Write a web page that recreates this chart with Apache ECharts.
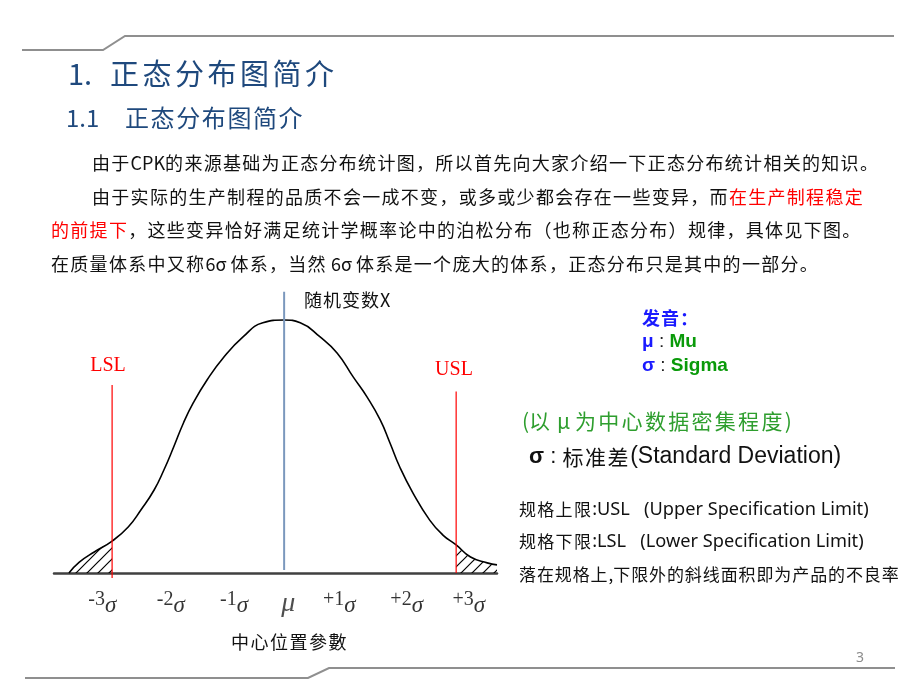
<!DOCTYPE html>
<html><head><meta charset="utf-8">
<script src="https://cdn.jsdelivr.net/npm/echarts@6/dist/echarts.min.js"></script>
<style>html,body{margin:0;padding:0;background:#fff}#c{width:920px;height:690px}</style>
</head><body><div id="c"></div>
<script>
// ---- data (x in sigma units, y relative to peak) ----
const curveX = [-3.74,-3.56,-3.30,-2.99,-2.71,-2.49,-2.26,-2.09,-1.92,-1.75,-1.58,-1.34,-1.06,-0.71,-0.37,0,0.28,0.62,0.92,1.20,1.44,1.67,1.84,2.01,2.24,2.53,2.76,2.99,3.24,3.53,3.70];
const curveY = [0,0.043,0.083,0.126,0.182,0.249,0.328,0.407,0.498,0.593,0.672,0.763,0.850,0.934,0.989,1.0,0.989,0.934,0.870,0.775,0.696,0.605,0.514,0.419,0.316,0.209,0.150,0.111,0.063,0.040,0.032];
const lslX = -2.99, uslX = 2.99, muX = 0;
const lslSpan = [0.743, -0.02];
const uslSpan = [0.717, 0];
const muSpan = [1.112, 0.012];
const tickPos = [-3.16,-1.97,-0.87,0.07,0.96,2.13,3.21];
const tickText = ['-3','-2','-1','μ','+1','+2','+3'];
const tickY = -0.121;

// ---- helpers ----
const mctx = document.createElement('canvas').getContext('2d');
function mw(t, font){ mctx.font = font; return mctx.measureText(t).width; }
const isCJK = ch => /[\u3000-\u303f\u3400-\u9fff\uff00-\uffef]/.test(ch);
function txtEl(t, x, y, font, color){
  return {type:'text', x:x, y:y, silent:true, z:10,
    style:{text:t, font:font, fill:color, textAlign:'left', textVerticalAlign:'middle', align:'left', verticalAlign:'middle'}};
}
function run(x, yc, segs, out){
  let cx = x;
  for (const s of segs){
    let buf = '';
    const flush = () => { if (buf){ out.push(txtEl(buf, cx, yc, s.font, s.color)); cx += mw(buf, s.font); buf=''; } };
    for (const ch of s.t){
      if (isCJK(ch) && s.step){ flush(); out.push(txtEl(ch, cx, yc, s.font, s.color)); cx += s.step; }
      else buf += ch;
    }
    flush();
  }
  return cx;
}
const CJK = '"Noto Sans CJK SC"';
const navy = '#1F497D', red = '#ff0000', ink = '#111111';
const g = [];
// title
run(68, 74, [{t:'1.', font:'29px '+CJK, color:navy}], g);
run(110, 74, [{t:'正态分布图简介', font:'29px '+CJK, color:navy, step:32.5}], g);
run(66, 117.5, [{t:'1.1', font:'24px '+CJK, color:navy}], g);
run(125, 117.5, [{t:'正态分布图简介', font:'24px '+CJK, color:navy, step:25.6}], g);
// body
const B = '18px '+CJK;
run(92, 163, [{t:'由于CPK的来源基础为正态分布统计图，所以首先向大家介绍一下正态分布统计相关的知识。', font:B, color:ink, step:19.3}], g);
run(92, 197, [{t:'由于实际的生产制程的品质不会一成不变，或多或少都会存在一些变异，而', font:B, color:ink, step:19.3},
              {t:'在生产制程稳定', font:B, color:red, step:19.3}], g);
run(51, 230, [{t:'的前提下', font:B, color:red, step:19.3},
              {t:'，这些变异恰好满足统计学概率论中的泊松分布（也称正态分布）规律，具体见下图。', font:B, color:ink, step:19.3}], g);
run(51, 264, [{t:'在质量体系中又称6σ 体系，当然 6σ 体系是一个庞大的体系，正态分布只是其中的一部分。', font:B, color:ink, step:19.3}], g);
// chart annotations
run(304, 300, [{t:'随机变数X', font:'18px '+CJK, color:ink, step:19}], g);
const SF = '20px "Liberation Serif"';
run(108 - mw('LSL', SF)/2, 366, [{t:'LSL', font:SF, color:red}], g);
run(454 - mw('USL', SF)/2, 370, [{t:'USL', font:SF, color:red}], g);
run(231, 642, [{t:'中心位置參數', font:'18px "Noto Sans CJK TC"', color:ink, step:19.5}], g);
// right panel
const blue = '#1a1aff', green = '#0a9a0a';
run(642, 318, [{t:'发音：', font:'bold 18px '+CJK, color:blue, step:19}], g);
run(642, 342, [{t:'μ', font:'bold 19px "Liberation Sans"', color:blue}, {t:' : ', font:'19px "Liberation Sans"', color:'#222'}, {t:'Mu', font:'bold 19px "Liberation Sans"', color:green}], g);
run(642, 366, [{t:'σ', font:'bold 19px "Liberation Sans"', color:blue}, {t:' : ', font:'19px "Liberation Sans"', color:'#222'}, {t:'Sigma', font:'bold 19px "Liberation Sans"', color:green}], g);
run(522, 421, [{t:'(以 μ 为中心数据密集程度)', font:'21px '+CJK, color:'#2e9e2e', step:23.3}], g);
run(529, 457, [{t:'σ', font:'bold 22px "Liberation Sans"', color:ink}, {t:' : ', font:'22px "Liberation Sans"', color:ink},
               {t:'标准差', font:'21px '+CJK, color:ink, step:22.6}, {t:'(Standard Deviation)', font:'23px "Liberation Sans"', color:ink}], g);
run(519, 510, [{t:'规格上限', font:'17px '+CJK, color:ink, step:18.3}, {t:':USL   (Upper Specification Limit)', font:'18.2px "Noto Sans"', color:ink}], g);
run(519, 542, [{t:'规格下限', font:'17px '+CJK, color:ink, step:18.3}, {t:':LSL   (Lower Specification Limit)', font:'18.2px "Noto Sans"', color:ink}], g);
run(519, 575, [{t:'落在规格上,下限外的斜线面积即为产品的不良率', font:'17px '+CJK, color:ink, step:17.9}], g);
run(856, 658, [{t:'3', font:'14px "Noto Sans"', color:'#8c8c8c'}], g);
// slide decoration lines
g.push({type:'polyline', silent:true, shape:{points:[[22,50],[103,50],[125,36],[894,36]]}, style:{stroke:'#8f8f8f', lineWidth:2, fill:null}});
g.push({type:'polyline', silent:true, shape:{points:[[25,678],[308,678],[329,668],[895,668]]}, style:{stroke:'#8f8f8f', lineWidth:2, fill:null}});

// hatch pattern
const pc = document.createElement('canvas'); pc.width = 11; pc.height = 11;
const px = pc.getContext('2d'); px.strokeStyle = '#000'; px.lineWidth = 1.2;
px.beginPath(); px.moveTo(-1,12); px.lineTo(12,-1); px.moveTo(-2,2); px.lineTo(2,-2); px.moveTo(9,13); px.lineTo(13,9); px.stroke();
const hatch = {image: pc, repeat: 'repeat'};

const curve = curveX.map((x,i)=>[x, curveY[i]]);
const leftTail = curve.filter(p=>p[0] <= lslX);
const rightTail = curve.filter(p=>p[0] >= uslX);

const chart = echarts.init(document.getElementById('c'), null, {renderer:'canvas'});
chart.setOption({
  animation:false,
  backgroundColor:'#ffffff',
  grid:{left:54, right:423, top:289.64, bottom:41.1},
  xAxis:{type:'value', min:-4, max:3.7, axisLine:{show:true, onZero:true, lineStyle:{color:'#404040', width:2.5}},
    axisTick:{show:false}, axisLabel:{show:false}, splitLine:{show:false}},
  yAxis:{type:'value', min:-0.3, max:1.12, show:false, splitLine:{show:false}},
  graphic:{elements:g},
  series:[
    {type:'line', data:leftTail, smooth:0.5, showSymbol:false, lineStyle:{width:0}, areaStyle:{color:hatch, opacity:1}, z:2, silent:true},
    {type:'line', data:rightTail, smooth:0.5, showSymbol:false, lineStyle:{width:0}, areaStyle:{color:hatch, opacity:1}, z:2, silent:true},
    {type:'line', data:curve, smooth:0.5, showSymbol:false, lineStyle:{color:'#000', width:1.6}, z:4, silent:true},
    {type:'line', data:[[lslX, lslSpan[0]],[lslX, lslSpan[1]]], showSymbol:false, lineStyle:{color:red, width:1.2}, z:5, silent:true},
    {type:'line', data:[[uslX, uslSpan[0]],[uslX, uslSpan[1]]], showSymbol:false, lineStyle:{color:red, width:1.2}, z:5, silent:true},
    {type:'line', data:[[muX, muSpan[0]],[muX, muSpan[1]]], showSymbol:false, lineStyle:{color:'#7b98bd', width:2}, z:5, silent:true},
    {type:'scatter', data:tickPos.map(x=>[x, tickY]), symbolSize:1, itemStyle:{color:'rgba(0,0,0,0)'}, silent:true, z:6,
      label:{show:true, position:'inside',
        formatter:p=> tickText[p.dataIndex]==='μ' ? '{m|μ}' : '{n|'+tickText[p.dataIndex]+'}{s|σ}',
        rich:{
          n:{fontFamily:'Liberation Serif', fontSize:20, color:'#000', verticalAlign:'top'},
          s:{fontFamily:'Liberation Serif', fontStyle:'italic', fontSize:23, color:'#000', verticalAlign:'top', padding:[5,0,0,0]},
          m:{fontFamily:'Liberation Serif', fontStyle:'italic', fontSize:28, color:'#222'}
        }}}
  ]
});
</script></body></html>
